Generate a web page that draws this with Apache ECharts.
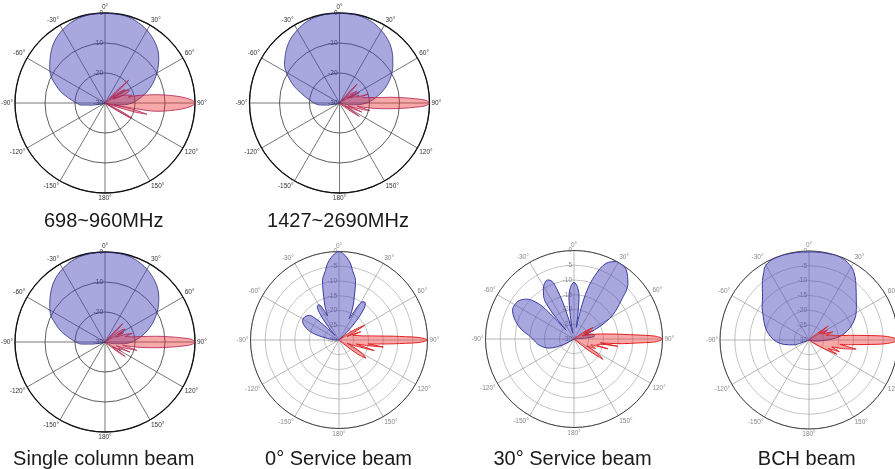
<!DOCTYPE html>
<html><head><meta charset="utf-8">
<script src="https://cdn.jsdelivr.net/npm/echarts@6/dist/echarts.min.js"></script>
<style>html,body{margin:0;padding:0;background:#fff}#c{width:895px;height:469px}</style>
</head><body><div id="c"></div><script>
// ---------- data (angle in degrees, gain in dB) ----------
const titles = ['698~960MHz','1427~2690MHz','Single column beam','0° Service beam','30° Service beam','BCH beam'];

const topBlueAng = [-180,-120,-105,-100,-95,-90,-85,-80,-75,-70,-65,-60,-55,-50,-45,-40,-35,-30,-25,-20,-15,-10,-5,0,5,10,15,20,25,30,35,40,45,50,55,60,65,70,75,80,85,90,95,100,110,180];
const c1BlueDb = [-30,-30,-29,-26,-22,-20.5,-18.8,-16.8,-14.5,-12.6,-10.4,-8.8,-7.5,-6.2,-4.8,-3.6,-2.6,-1.8,-1.1,-0.6,-0.3,-0.1,0,0,0,-0.1,-0.3,-0.7,-1.3,-2,-2.9,-3.9,-5.1,-6.6,-8.3,-10,-11.8,-13.6,-15.5,-17.4,-19.2,-21,-23.5,-26.5,-30,-30];
const c2BlueDb = [-30,-30,-29,-26,-23,-21.5,-20.2,-18.5,-16.5,-14,-11.8,-9.5,-7.6,-6.3,-4.9,-3.7,-2.7,-1.9,-1.1,-0.6,-0.3,-0.1,0,0,0,-0.1,-0.3,-0.7,-1.3,-2.1,-3,-4,-5.3,-6.8,-8.3,-9.8,-11.5,-13.3,-15.2,-17.2,-19,-21,-23.5,-26.5,-30,-30];
const c3BlueDb = [-30,-30,-29,-26,-22,-20.3,-18.6,-16.6,-14.4,-12.5,-10.3,-8.8,-7.5,-6.2,-4.8,-3.6,-2.6,-1.8,-1.1,-0.6,-0.3,-0.1,0,0,0,-0.1,-0.3,-0.7,-1.3,-2,-2.9,-3.9,-5.1,-6.6,-8.2,-9.9,-11.7,-13.5,-15.4,-17.3,-19.2,-21,-23.5,-26.5,-30,-30];

const c1RedAng = [30,40,44,46,48,50,53,56,58,61,63,65,68,71,74,76,77,79,81,83.3,85.4,87.8,90,92.2,94.6,96.7,99,100.5,101.5,103,105,107,109,113,117,119,121,123,130,180];
const c1RedDb = [-30,-30,-24,-19,-24,-28,-24,-22,-27,-21,-21,-27,-23,-22,-20.6,-22,-19,-16,-12.3,-8.3,-4.6,-1.3,0,-1.3,-4.6,-8.3,-12.3,-20,-27,-20,-15.5,-20,-28,-30,-24,-19.7,-21,-28,-30,-30];

const c2RedAng = [30,38,41,43,45,48,52,56,59,62,65,68,71,73,75,77,79,81.2,83.5,85.4,86.8,88.2,90,91.8,93.2,94.6,96.5,98.8,100.5,102,104,106,108,110,112,114,117,120,124,127,130,180];
const c2RedDb = [-30,-30,-25,-21.4,-25,-29,-25,-23,-27,-22.5,-26,-23,-24,-20,-22,-22,-20.5,-18.2,-13.1,-8.4,-4.7,-1.3,0,-1.3,-4.7,-8.4,-13.1,-18.2,-24,-22,-19.5,-22,-27,-25,-22,-25,-28,-26,-22,-26,-30,-30];

const c3RedAng = [30,40,42,44,46,49,53,56,58,60,63,66,69,72.7,75,77,79,81.2,83.5,85.4,86.8,88.2,90,91.8,93.2,94.6,96.5,98.8,100.5,102.5,104.7,107,109,112,115,118,122,125.6,128,132,180];
const c3RedDb = [-30,-30,-25,-21.4,-25,-29,-24,-22.5,-22,-25,-23,-26,-23,-20.5,-23,-22,-21,-18.2,-13.1,-8.4,-4.7,-1.3,0,-1.3,-4.7,-8.4,-13.1,-18.2,-24,-22,-19,-23,-26,-21,-25,-24,-27,-21.7,-25,-30,-30];

const c4BlueAng = [-180,-100,-90,-82,-78,-74,-70,-66,-62,-58,-54,-50,-48,-46,-43,-41,-39,-36,-33,-30,-28,-25.5,-22.5,-19.5,-17.5,-15.5,-13.5,-11,-8.7,-5.4,-3,0,3,5.4,8.7,11,13.5,15.5,17.5,19.5,22,24,25.5,27,29,31,33,36,39,42,45,50,180];
const c4BlueDb = [-30,-30,-29,-26,-23,-20,-18.2,-16.8,-16,-15.9,-16.2,-17,-18.5,-22,-27,-28,-24,-19,-16.5,-16.2,-17,-21,-17.5,-14.5,-11.8,-9.1,-7.6,-6,-3.9,-1.9,-0.8,0,-0.8,-1.9,-3.9,-6,-7.6,-9.1,-11.8,-14.5,-17,-19.5,-22,-21,-17,-15,-14.5,-14.8,-17,-21,-26,-30,-30];
const c4RedAng = [40,50,55,60,63,66,69,72,75,78,80,82,84.4,86,87.2,88.2,90,91.8,92.8,94,95.6,97.5,99,101,103,106.7,109,112,115,120,124,127,130,135,180];
const c4RedDb = [-30,-30,-25,-20,-24,-27,-22,-25,-24,-23,-22,-20,-16.3,-11.5,-7.4,-2.9,0,-2.9,-7.4,-11.5,-16.3,-20,-14.8,-20,-24,-17.5,-23,-27,-25,-21,-19,-22,-28,-30,-30];

const c5BlueAng = [-180,-125,-118,-110,-100,-90,-85,-80,-75,-70,-65,-60,-55,-50,-47,-44,-42,-40,-38,-35,-32,-28,-24,-21,-19,-17,-15,-12,-9,-7,-4,0,4,7,9,11,13,15,18,23,29,33,37,44,51,58,62,66,70,74,78,82,86,90,180];
const c5BlueDb = [-30,-30,-26,-21,-18,-16,-14.5,-12,-10,-8.3,-7,-6.8,-7.3,-9,-11,-15,-26,-20,-14.6,-12,-10.4,-8.7,-8.1,-9,-12,-17,-23,-28,-22,-16,-12.5,-10.8,-12.5,-16,-22,-26,-19,-13,-7.7,-2.1,0,0,-0.6,-3.7,-9.5,-14.4,-18,-22.3,-26,-24,-23,-23,-28,-30,-30];
const c5RedAng = [40,52,55,59,62,66,70,74,78,82,84.5,86.3,88,90,92,93.7,95.5,97,98.2,99.5,101.5,104,106,109,114,118,122,125,128,132,180];
const c5RedDb = [-30,-30,-26,-22.5,-26,-23,-27,-25,-22,-17.8,-13.5,-8.9,-2.5,0,-2.5,-8.9,-13.5,-17.8,-21,-15,-21,-22,-18,-24,-22,-25,-20,-18,-24,-30,-30];

const c6BlueAng = [-180,-120,-110,-107,-100,-93,-85,-77,-70,-63,-55,-47,-42,-38,-34,-31,-25,-15,0,15,22.6,30,34,38,42,47.5,55,63.5,70,74,80,86,92,100,110,180];
const c6BlueDb = [-30,-30,-26,-24.4,-21.5,-19,-17,-15.3,-14,-12.7,-10.7,-8.6,-6.5,-4.5,-2.7,-1.2,-0.2,-0.1,-0.3,-0.1,-0.3,-1.5,-2.8,-4.5,-6.3,-8.4,-10.5,-12.5,-14.5,-15.8,-18,-21,-25,-28,-30,-30];
const c6RedAng = [40,50,54,58,62,66,71,75,78,81,83.5,85.5,87.3,90,92.7,94.5,96.5,98,101,104,107,111,114,117,120,124,130,180];
const c6RedDb = [-30,-28,-22,-26,-23,-25,-21.5,-24,-22,-21,-16,-10.7,-4,0,-4,-10.7,-16,-19.5,-13.8,-18,-22,-19,-23,-19.5,-24,-28,-30,-30];

const charts = [
  {blue:[topBlueAng,c1BlueDb], red:[c1RedAng,c1RedDb], step:10},
  {blue:[topBlueAng,c2BlueDb], red:[c2RedAng,c2RedDb], step:10},
  {blue:[topBlueAng,c3BlueDb], red:[c3RedAng,c3RedDb], step:10},
  {blue:[c4BlueAng,c4BlueDb], red:[c4RedAng,c4RedDb], step:5},
  {blue:[c5BlueAng,c5BlueDb], red:[c5RedAng,c5RedDb], step:5},
  {blue:[c6BlueAng,c6BlueDb], red:[c6RedAng,c6RedDb], step:5}
];

// ---------- layout ----------
const centers = [[105,103],[339.5,103],[105,342],[339,340],[574,339],[809,340]];
const radii = [90,90,90,88.5,88.5,89];
const titlePos = [[103.7,211],[338,211],[103.7,449],[338.5,449],[572.5,449],[806.7,449]];

const fmtAngle = v => v === 360 ? '' : (v > 180 ? (v - 360) : v) + '°';

const polar = [], angleAxis = [], radiusAxis = [], series = [], title = [];
charts.forEach((c, i) => {
  const top = i < 3;
  polar.push({center: centers[i], radius: radii[i]});
  angleAxis.push({
    polarIndex: i, type: 'value', min: 0, max: 360, interval: 30,
    startAngle: 90, clockwise: true,
    axisLine: {lineStyle: {color: top ? '#111' : '#444', width: top ? 1.3 : 1}},
    axisTick: {show: false},
    axisLabel: {formatter: fmtAngle, fontSize: 6.5, color: top ? '#333' : '#888', margin: 2, fontFamily: 'Liberation Sans'},
    splitLine: {lineStyle: {color: top ? '#555' : '#999', width: top ? 0.8 : 0.7}}
  });
  radiusAxis.push({
    polarIndex: i, type: 'value', min: -30, max: 0, interval: c.step,
    axisLine: {show: false}, axisTick: {show: false},
    axisLabel: {fontSize: 6.5, color: top ? '#333' : '#888', margin: 2, showMinLabel: true, showMaxLabel: true, fontFamily: 'Liberation Sans'},
    splitLine: {show: true, lineStyle: {color: top ? '#333' : '#aaa', width: top ? 0.8 : 0.7}}
  });
  const mk = (pair, color, fill, z) => ({
    type: 'line', coordinateSystem: 'polar', polarIndex: i,
    data: pair[0].map((a, k) => [pair[1][k], a]),
    symbol: 'none', smooth: 0.35, z: z,
    lineStyle: {color: color, width: top ? 0.8 : 1},
    areaStyle: {color: fill, opacity: 1, origin: 'start'}
  });
  series.push(mk(c.blue, top ? '#2e2e80' : '#3a3aa0', 'rgba(70,70,185,0.47)', 3));
  series.push(mk(c.red, top ? '#b02050' : '#e02020', 'rgba(235,50,50,0.42)', 4));
  title.push({
    text: titles[i], left: titlePos[i][0], top: titlePos[i][1], textAlign: 'center', padding: 0,
    textStyle: {fontSize: 20, fontWeight: 'normal', color: '#1a1a1a', fontFamily: 'Liberation Sans'}
  });
});

const chart = echarts.init(document.getElementById('c'));
chart.setOption({animation: false, backgroundColor: '#fff', title, polar, angleAxis, radiusAxis, series});
</script></body></html>
